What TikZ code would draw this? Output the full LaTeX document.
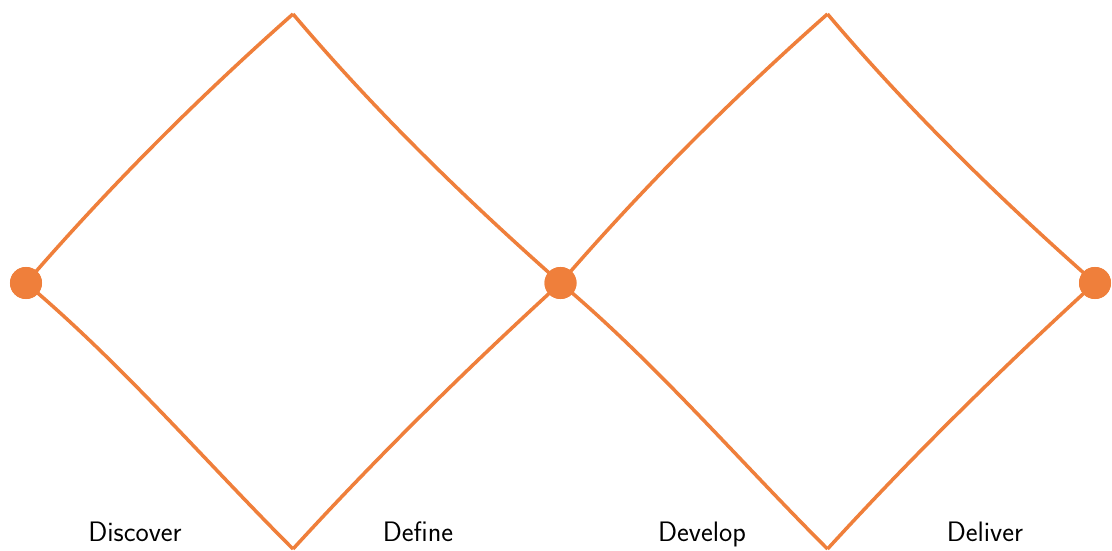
\documentclass[tikz,border=0pt]{standalone}
\usepackage{tikz}
\usetikzlibrary{positioning}
\definecolor{ddorange}{RGB}{239,127,59}

\begin{document}
\begin{tikzpicture}[x=0.025cm,y=-0.025cm,
    edge/.style={draw=ddorange,line width=2.5pt},
    dot/.style={circle,fill=ddorange,inner sep=0pt,minimum size=0.8cm},
    phase/.style={font=\sffamily\fontsize{20}{24}\selectfont,text=black,anchor=base}]
    % Fix page size
    \useasboundingbox (0,0) rectangle (1112,551);
    % Define diamond width
    \def\dw{534.5}
    % Joints of the two diamonds
    \foreach \i in {0,1,2} {
        \node[dot] (p\i) at (26+\i*\dw,283) {};
    }
    % Tips of the two diamonds
    \foreach \i in {1,2} {
        \coordinate (top\i) at (293+\i*\dw-\dw,14);
        \coordinate (bot\i) at (293+\i*\dw-\dw,549);
    }
    % Draw diamond edges
    \foreach \i [evaluate=\i as \j using int(\i-1)] in {1,2} {
        \draw[edge] (p\j.center) .. controls +(83,-96) and +(-95,84) .. (top\i);
        \draw[edge] (top\i) .. controls +(82,97) and +(-95,-84) .. (p\i.center);
        \draw[edge] (p\j.center) .. controls +(95,80) and +(-89,-89) .. (bot\i);
        \draw[edge] (bot\i) .. controls +(85,-93) and +(-93,85) .. (p\i.center);
    }
    % Redraw joints on top of the edges
    \foreach \i in {0,1,2} {
        \node[dot] at (p\i) {};
    }
    % Phase labels (below diamonds)
    \node[phase] (discover) at (135,541) {Discover};
    \node[phase] (define) at (418,541) {Define};
    \node[phase] (develop) at (702,541) {Develop};
    \node[phase] (deliver) at (985,541) {Deliver};
\end{tikzpicture}
\end{document}
